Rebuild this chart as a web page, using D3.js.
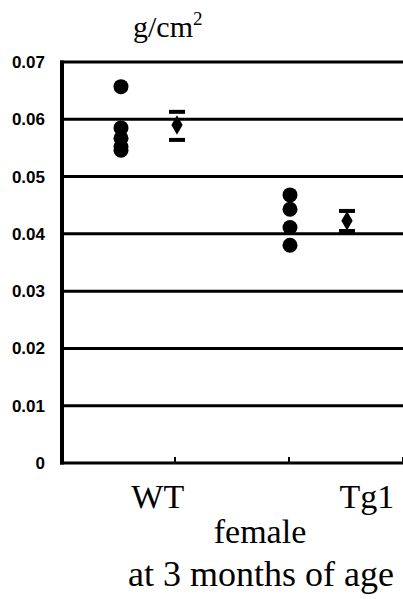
<!DOCTYPE html>
<html>
<head>
<meta charset="utf-8">
<script src="https://cdn.jsdelivr.net/npm/d3@7"></script>
<style>
  body { margin: 0; background: #fff; }
  svg { display: block; }
</style>
</head>
<body>
<div id="chart"></div>
<script>
// values (bone density, g/cm2)
var groups = ["WT", "Tg1"];
var wtPoints = [0.0657, 0.0585, 0.0567, 0.0552, 0.0546];
var tgPoints = [0.0468, 0.0443, 0.0411, 0.0380];
var means = [0.0590, 0.0423];
var capHigh = [0.0613, 0.0440];
var capLow = [0.0564, 0.0405];
var yTicks = [0, 0.01, 0.02, 0.03, 0.04, 0.05, 0.06, 0.07];

var width = 403, height = 599;
var plotLeft = 62, plotRight = 404, plotTop = 62, plotBottom = 463;

var svg = d3.select("#chart").append("svg")
    .attr("width", width)
    .attr("height", height);

// x: six slots, dots at 1 / 4, mean at 2 / 5
var x = d3.scaleLinear().domain([0, 6]).range([plotLeft, plotRight]);
var y = d3.scaleLinear().domain([0, 0.07]).range([plotBottom, plotTop]);

// gridlines
svg.selectAll("line.grid")
    .data(yTicks)
    .enter().append("line")
    .attr("class", "grid")
    .attr("x1", plotLeft - 2)
    .attr("x2", plotRight)
    .attr("y1", function(d) { return y(d); })
    .attr("y2", function(d) { return y(d); })
    .attr("stroke", "#000")
    .attr("stroke-width", 3);

// y axis line
svg.append("line")
    .attr("x1", plotLeft).attr("x2", plotLeft)
    .attr("y1", y(0.07) - 1.5).attr("y2", y(0) + 1.5)
    .attr("stroke", "#000")
    .attr("stroke-width", 4);

// small ticks on x axis
svg.selectAll("line.xtick")
    .data([2, 4, 6])
    .enter().append("line")
    .attr("class", "xtick")
    .attr("x1", function(d) { return x(d) - 1; })
    .attr("x2", function(d) { return x(d) - 1; })
    .attr("y1", y(0))
    .attr("y2", y(0) - 6)
    .attr("stroke", "#000")
    .attr("stroke-width", 2);

// y tick labels
svg.selectAll("text.ytick")
    .data(yTicks)
    .enter().append("text")
    .attr("class", "ytick")
    .attr("x", 45)
    .attr("y", function(d) { return y(d) + 6; })
    .attr("text-anchor", "end")
    .attr("font-family", "Liberation Sans, Arial, sans-serif")
    .attr("font-weight", "bold")
    .attr("font-size", 17)
    .text(function(d) { return d === 0 ? "0" : d3.format(".2f")(d); });

// individual animals
svg.selectAll("circle.wt")
    .data(wtPoints)
    .enter().append("circle")
    .attr("class", "wt")
    .attr("cx", x(1) + 2)
    .attr("cy", function(d) { return y(d); })
    .attr("r", 7.5)
    .attr("fill", "#000");

svg.selectAll("circle.tg")
    .data(tgPoints)
    .enter().append("circle")
    .attr("class", "tg")
    .attr("cx", x(4))
    .attr("cy", function(d) { return y(d); })
    .attr("r", 7.5)
    .attr("fill", "#000");

// mean +/- error
var meanX = [x(2) + 1, x(5)];
means.forEach(function(m, i) {
    var cx = meanX[i];
    [capHigh[i], capLow[i]].forEach(function(c) {
        svg.append("line")
            .attr("x1", cx - 8).attr("x2", cx + 8)
            .attr("y1", y(c)).attr("y2", y(c))
            .attr("stroke", "#000")
            .attr("stroke-width", 4);
    });
    svg.append("path")
        .attr("d", d3.symbol().type(d3.symbolDiamond).size(110))
        .attr("transform", "translate(" + cx + "," + y(m) + ")")
        .attr("fill", "#000");
});

// unit label
var unit = svg.append("text")
    .attr("x", 133)
    .attr("y", 37)
    .attr("font-family", "Liberation Serif, Times New Roman, serif")
    .attr("font-size", 30);
unit.append("tspan").text("g/cm");
unit.append("tspan")
    .attr("font-size", 19)
    .attr("dy", -12)
    .text("2");

// category labels
var labelX = [x(1.68), x(5.35)];
svg.selectAll("text.group")
    .data(groups)
    .enter().append("text")
    .attr("class", "group")
    .attr("x", function(d, i) { return labelX[i]; })
    .attr("y", 508)
    .attr("text-anchor", "middle")
    .attr("font-family", "Liberation Serif, Times New Roman, serif")
    .attr("font-size", 34)
    .text(function(d) { return d; });

svg.append("text")
    .attr("x", 260)
    .attr("y", 543)
    .attr("text-anchor", "middle")
    .attr("font-family", "Liberation Serif, Times New Roman, serif")
    .attr("font-size", 34)
    .text("female");

svg.append("text")
    .attr("x", 261)
    .attr("y", 586)
    .attr("text-anchor", "middle")
    .attr("font-family", "Liberation Serif, Times New Roman, serif")
    .attr("font-size", 36)
    .text("at 3 months of age");
</script>
</body>
</html>
